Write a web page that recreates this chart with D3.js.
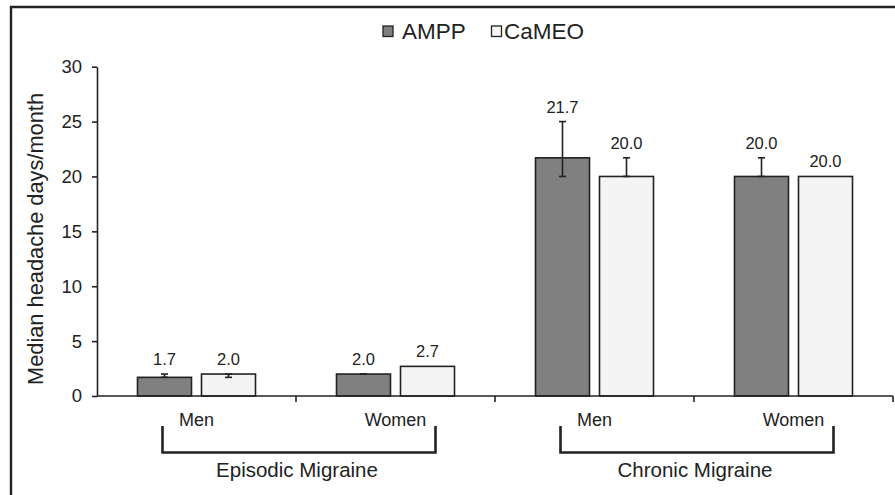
<!DOCTYPE html>
<html>
<head>
<meta charset="utf-8">
<script src="https://cdn.jsdelivr.net/npm/d3@7/dist/d3.min.js"></script>
<style>
  html, body { margin: 0; padding: 0; background: #fff; }
  svg { display: block; font-family: "Liberation Sans", Arial, sans-serif; }
</style>
</head>
<body>
<svg id="chart" width="895" height="495"></svg>
<script>
// ---- data ----
const categories = ["Episodic Men", "Episodic Women", "Chronic Men", "Chronic Women"];
const categoryLabels = ["Men", "Women", "Men", "Women"];
const groups = ["Episodic Migraine", "Chronic Migraine"];
const groupMembers = [["Episodic Men", "Episodic Women"], ["Chronic Men", "Chronic Women"]];
const series = ["AMPP", "CaMEO"];
const amppValues = [1.7, 2.0, 21.7, 20.0];
const cameoValues = [2.0, 2.7, 20.0, 20.0];
const amppLow = [1.7, 2.0, 20.0, 20.0];
const amppHigh = [2.0, 2.0, 25.0, 21.7];
const cameoLow = [1.7, null, 20.0, null];
const cameoHigh = [2.0, null, 21.7, null];
const yTicks = [0, 5, 10, 15, 20, 25, 30];
const yLabel = "Median headache days/month";

// ---- styles ----
const ink = "#222";
const fills = { AMPP: "#808080", CaMEO: "#f4f4f4" };

const svg = d3.select("#chart");

// frame
svg.append("path")
  .attr("d", "M11,498 L11,7 L900,7")
  .attr("fill", "none").attr("stroke", ink).attr("stroke-width", 2.4);

const x0 = d3.scaleBand().domain(categories).range([97, 893]).paddingInner(0).paddingOuter(0);
const bw = x0.bandwidth();
const x1 = d3.scaleBand().domain(series).range([bw / 2 - 59, bw / 2 + 59]).paddingInner(10 / 64).paddingOuter(0);
const y = d3.scaleLinear().domain([0, 30]).range([396, 66.7]);

const rows = categories.map((c, i) => ({
  cat: c,
  items: [
    { s: "AMPP", v: amppValues[i], lo: amppLow[i], hi: amppHigh[i] },
    { s: "CaMEO", v: cameoValues[i], lo: cameoLow[i], hi: cameoHigh[i] }
  ]
}));

// bars
const g = svg.append("g");
const cat = g.selectAll("g.cat").data(rows).join("g")
  .attr("class", "cat")
  .attr("transform", d => `translate(${x0(d.cat)},0)`);

cat.selectAll("rect").data(d => d.items).join("rect")
  .attr("x", d => x1(d.s))
  .attr("width", x1.bandwidth())
  .attr("y", d => y(d.v))
  .attr("height", d => y(0) - y(d.v))
  .attr("fill", d => fills[d.s])
  .attr("stroke", ink).attr("stroke-width", 1.6);

// error bars
const eb = cat.selectAll("g.err").data(d => d.items.filter(e => e.lo != null)).join("g").attr("class", "err");
eb.append("line")
  .attr("x1", d => x1(d.s) + x1.bandwidth() / 2).attr("x2", d => x1(d.s) + x1.bandwidth() / 2)
  .attr("y1", d => y(d.lo)).attr("y2", d => y(d.hi))
  .attr("stroke", ink).attr("stroke-width", 1.6);
eb.selectAll("line.cap").data(d => [[d, d.lo], [d, d.hi]]).join("line")
  .attr("class", "cap")
  .attr("x1", d => x1(d[0].s) + x1.bandwidth() / 2 - 3.5).attr("x2", d => x1(d[0].s) + x1.bandwidth() / 2 + 3.5)
  .attr("y1", d => y(d[1])).attr("y2", d => y(d[1]))
  .attr("stroke", ink).attr("stroke-width", 1.6);

// value labels
cat.selectAll("text.val").data(d => d.items).join("text")
  .attr("class", "val")
  .attr("x", d => x1(d.s) + x1.bandwidth() / 2)
  .attr("y", d => y(Math.max(d.v, d.hi == null ? d.v : d.hi)) - 9)
  .attr("text-anchor", "middle")
  .attr("font-size", 16.5).attr("fill", ink)
  .text(d => d.v.toFixed(1));

// y axis
const yAxis = svg.append("g").attr("transform", "translate(97,0)")
  .call(d3.axisLeft(y).tickValues(yTicks).tickSize(5).tickPadding(10).tickSizeOuter(0));
yAxis.attr("font-size", 18.5).attr("font-family", "'Liberation Sans', Arial, sans-serif");
yAxis.select(".domain").attr("stroke", ink).attr("stroke-width", 1.6);
yAxis.selectAll(".tick line").attr("stroke", ink).attr("stroke-width", 1.6);
yAxis.selectAll(".tick text").attr("fill", ink);

// x axis
const xBoundaries = categories.map(c => x0(c)).concat([x0.range()[1]]);
svg.append("line").attr("x1", 97).attr("x2", 893).attr("y1", y(0)).attr("y2", y(0))
  .attr("stroke", ink).attr("stroke-width", 1.6);
svg.selectAll("line.xtick").data(xBoundaries.slice(1)).join("line")
  .attr("class", "xtick")
  .attr("x1", d => d).attr("x2", d => d)
  .attr("y1", y(0)).attr("y2", y(0) + 6)
  .attr("stroke", ink).attr("stroke-width", 1.6);

// category labels
svg.selectAll("text.catlab").data(categories).join("text")
  .attr("class", "catlab")
  .attr("x", d => x0(d) + bw / 2)
  .attr("y", 426)
  .attr("text-anchor", "middle")
  .attr("font-size", 18).attr("fill", ink)
  .text((d, i) => categoryLabels[i]);

// group brackets
const gdata = groups.map((gname, i) => ({
  name: gname,
  left: x0(groupMembers[i][0]) + bw / 2 - 34,
  right: x0(groupMembers[i][1]) + bw / 2 + 40,
  mid: (x0(groupMembers[i][0]) + x0(groupMembers[i][1]) + bw) / 2
}));
svg.selectAll("path.bracket").data(gdata).join("path")
  .attr("class", "bracket")
  .attr("d", d => `M${d.left},426 L${d.left},452.5 L${d.right},452.5 L${d.right},426`)
  .attr("fill", "none").attr("stroke", ink).attr("stroke-width", 2.6);
svg.selectAll("text.grp").data(gdata).join("text")
  .attr("class", "grp")
  .attr("x", d => d.mid + 1)
  .attr("y", 477)
  .attr("text-anchor", "middle")
  .attr("font-size", 20.5).attr("fill", ink)
  .text(d => d.name);

// y label
svg.append("text")
  .attr("transform", "translate(43,239) rotate(-90)")
  .attr("text-anchor", "middle")
  .attr("font-size", 21.8).attr("fill", ink)
  .text(yLabel);

// legend
const legendX = [383, 491.5];
const leg = svg.selectAll("g.leg").data(series).join("g")
  .attr("class", "leg")
  .attr("transform", (d, i) => `translate(${legendX[i]},0)`);
leg.append("rect").attr("x", 0).attr("y", 26).attr("width", 10).attr("height", 10.5)
  .attr("fill", d => fills[d]).attr("stroke", ink).attr("stroke-width", 1.3);
leg.append("text").attr("x", (d, i) => i === 0 ? 19 : 12.5).attr("y", 38.5)
  .attr("font-size", 22.5).attr("fill", ink)
  .text(d => d);
</script>
</body>
</html>
